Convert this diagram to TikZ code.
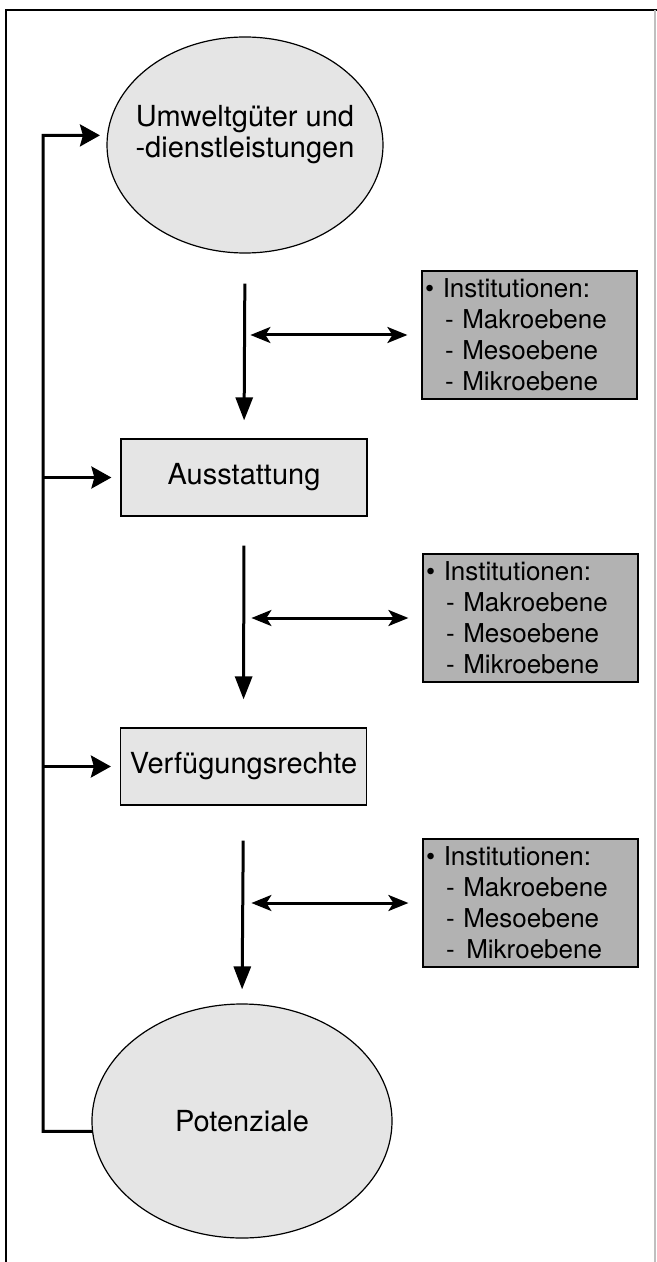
\documentclass[tikz,border=0pt]{standalone}
\usepackage{fontspec}
\setmainfont{TeX Gyre Heros}
\usepackage{xcolor}
\usepackage{tikz}
\usetikzlibrary{positioning,arrows.meta,shapes.geometric,calc}
\definecolor{lightfill}{gray}{0.9}
\definecolor{darkfill}{gray}{0.7}

\begin{document}
\begin{tikzpicture}[x=0.5pt,y=-0.5pt]
		\tikzstyle{every node}+=[inner sep=0pt]
		\tikzstyle{oval}=[ellipse,draw=black,line width=0.6pt,fill=lightfill,font=\fontsize{14.5}{15.5}\selectfont]
		\tikzstyle{stage}=[rectangle,draw=black,line width=0.6pt,fill=lightfill,minimum width=123pt,minimum height=38.5pt,font=\fontsize{14.5}{16}\selectfont]
		\tikzstyle{inst}=[rectangle,draw=black,line width=0.6pt,fill=darkfill,text width=104.5pt,minimum height=64pt,align=left,inner xsep=1.5pt,font=\fontsize{13}{15.5}\selectfont]
		\tikzstyle{flow}=[line width=1.5pt,-{Triangle[length=11.5pt,width=8.5pt]}]
		\tikzstyle{link}=[line width=1.5pt,{Stealth[length=10pt,width=8pt,inset=2.5pt]}-{Stealth[length=10pt,width=8pt,inset=2.5pt]}]
		\tikzstyle{feed}=[line width=1.5pt,-{Stealth[length=10pt,width=11pt,inset=1.5pt]}]
		\useasboundingbox (0,0) rectangle (657,1262);
		\draw[line width=1pt] (6,1262) -- (6,10) -- (657,10);
		\draw[gray!50,line width=0.6pt] (655,10) -- (655,1262);
		\node[oval,minimum width=138pt,minimum height=108pt] (umw) at (245,145) {};
		\node[align=center,font=\fontsize{14.5}{15.5}\selectfont] (umwText) at ([yshift=5pt]umw.center) {Umweltgüter und\\-dienstleistungen};
		\node[stage] (aus) at (244,477.5) {Ausstattung};
		\node[stage] (ver) at (243.5,766.5) {Verfügungsrechte};
		\node[oval,minimum width=150pt,minimum height=117pt] (pot) at (242,1121) {Potenziale};
		\node[inst] (inst1) at (529.5,335) {\textbullet\ Institutionen:\\\hspace*{10pt}-\ Makroebene\\\hspace*{10pt}-\ Mesoebene\\\hspace*{10pt}-\ Mikroebene};
		\node[inst] (inst2) at (530.5,618) {\textbullet\ Institutionen:\\\hspace*{10pt}-\ Makroebene\\\hspace*{10pt}-\ Mesoebene\\\hspace*{10pt}-\ Mikroebene};
		\node[inst] (inst3) at (530.5,903) {\textbullet\ Institutionen:\\\hspace*{10pt}-\ Makroebene\\\hspace*{10pt}-\ Mesoebene\\\hspace*{10pt}-\ \hspace{1.5pt}Mikroebene};
		\draw[flow,shorten <=15pt,shorten >=9pt] (umw.south) -- (aus.north);
		\draw[flow,shorten <=14.5pt,shorten >=14pt] (aus.south) -- (ver.north);
		\draw[flow,shorten <=17.5pt,shorten >=7pt] (ver.south) -- (pot.north);
		\coordinate[left=85.5pt of inst1.west] (l1);
		\coordinate[left=85.5pt of inst2.west] (l2);
		\coordinate[left=85.5pt of inst3.west] (l3);
		\draw[link,shorten >=7pt] (l1) -- (inst1.west);
		\draw[link,shorten >=7pt] (l2) -- (inst2.west);
		\draw[link,shorten >=7pt] (l3) -- (inst3.west);
		\coordinate (fb) at (43,135.5);
		\draw[feed,shorten >=3.5pt] (pot.184) -| (fb) -- (umw.176);
		\draw[feed,shorten >=4.5pt] (fb |- aus.west) -- (aus.west);
		\draw[feed,shorten >=4.5pt] (fb |- ver.west) -- (ver.west);
	\end{tikzpicture}
\end{document}
